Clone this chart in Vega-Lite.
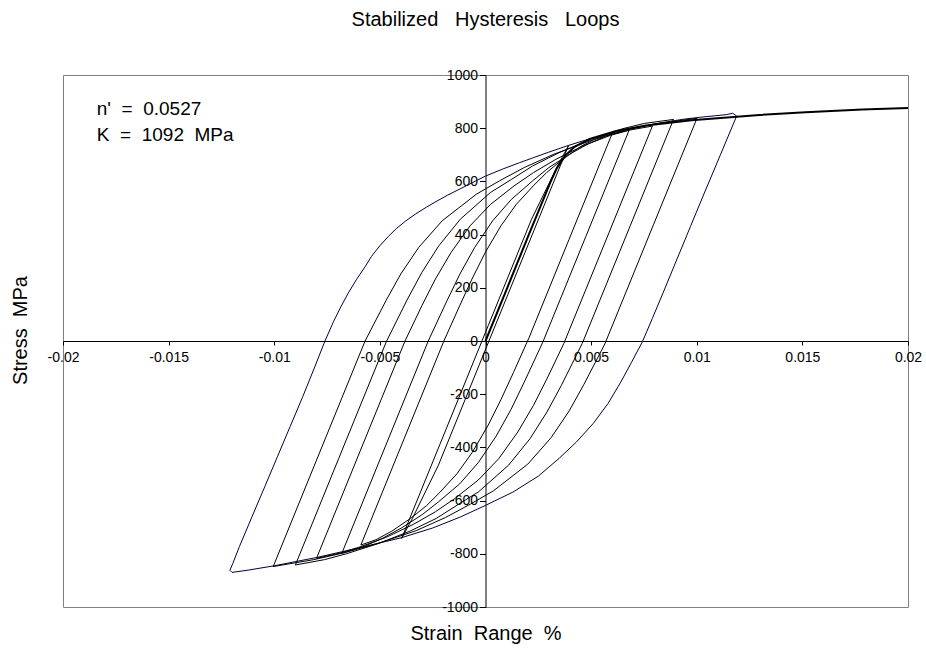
{
"$schema": "https://vega.github.io/schema/vega-lite/v6.json",
"width": 845, "height": 532,
"autosize": {"type": "none"},
"padding": {"left": 63, "top": 75, "right": 18, "bottom": 48},
"background": "white",
"title": {"text": "Stabilized\u00a0\u00a0\u00a0Hysteresis\u00a0\u00a0\u00a0Loops", "frame": "group", "anchor": "middle", "font": "Liberation Sans", "fontSize": 20, "fontWeight": "normal", "color": "#000000", "offset": 38},
"config": {"view": {"stroke": "#808080", "strokeWidth": 1}, "axis": {"grid": false}},
"datasets": {
"loops": [
{"id":"L7","k":1,"e":-0.0121,"s":-862},{"id":"L7","k":2,"e":-0.01196,"s":-836},{"id":"L7","k":3,"e":-0.01165,"s":-773},{"id":"L7","k":4,"e":-0.01105,"s":-660},{"id":"L7","k":5,"e":-0.01045,"s":-548},{"id":"L7","k":6,"e":-0.00985,"s":-435},{"id":"L7","k":7,"e":-0.00925,"s":-322},{"id":"L7","k":8,"e":-0.00865,"s":-209},{"id":"L7","k":9,"e":-0.00808,"s":-97},{"id":"L7","k":10,"e":-0.0076,"s":0},{"id":"L7","k":11,"e":-0.0072,"s":72},{"id":"L7","k":12,"e":-0.00685,"s":128},{"id":"L7","k":13,"e":-0.0065,"s":180},{"id":"L7","k":14,"e":-0.0061,"s":232},{"id":"L7","k":15,"e":-0.0057,"s":279},{"id":"L7","k":16,"e":-0.0054,"s":318},{"id":"L7","k":17,"e":-0.005,"s":358},{"id":"L7","k":18,"e":-0.0046,"s":393},{"id":"L7","k":19,"e":-0.0042,"s":424},{"id":"L7","k":20,"e":-0.0038,"s":450},{"id":"L7","k":21,"e":-0.0033,"s":478},{"id":"L7","k":22,"e":-0.0028,"s":503},{"id":"L7","k":23,"e":-0.0023,"s":526},{"id":"L7","k":24,"e":-0.0018,"s":548},{"id":"L7","k":25,"e":-0.0012,"s":572},{"id":"L7","k":26,"e":-0.0006,"s":596},{"id":"L7","k":27,"e":0,"s":620},{"id":"L7","k":28,"e":0.0008,"s":646},{"id":"L7","k":29,"e":0.0016,"s":670},{"id":"L7","k":30,"e":0.00226,"s":689},{"id":"L7","k":31,"e":0.003,"s":710},{"id":"L7","k":32,"e":0.00384,"s":733},{"id":"L7","k":33,"e":0.0046,"s":752},{"id":"L7","k":34,"e":0.00542,"s":770},{"id":"L7","k":35,"e":0.0062,"s":786},{"id":"L7","k":36,"e":0.007,"s":800},{"id":"L7","k":37,"e":0.0078,"s":813},{"id":"L7","k":38,"e":0.00858,"s":824},{"id":"L7","k":39,"e":0.0094,"s":834},{"id":"L7","k":40,"e":0.01015,"s":841},{"id":"L7","k":41,"e":0.0109,"s":847},{"id":"L7","k":42,"e":0.0114,"s":851},{"id":"L7","k":43,"e":0.0117,"s":856},{"id":"L7","k":44,"e":0.01189,"s":846},{"id":"L7","k":45,"e":0.01112,"s":700},{"id":"L7","k":46,"e":0.0103,"s":545},{"id":"L7","k":47,"e":0.0097,"s":430},{"id":"L7","k":48,"e":0.0084,"s":180},{"id":"L7","k":49,"e":0.0079,"s":85},{"id":"L7","k":50,"e":0.00742,"s":-4},{"id":"L7","k":51,"e":0.0069,"s":-82},{"id":"L7","k":52,"e":0.0064,"s":-155},{"id":"L7","k":53,"e":0.0058,"s":-235},{"id":"L7","k":54,"e":0.0051,"s":-310},{"id":"L7","k":55,"e":0.0043,"s":-380},{"id":"L7","k":56,"e":0.0035,"s":-440},{"id":"L7","k":57,"e":0.0025,"s":-508},{"id":"L7","k":58,"e":0.0013,"s":-568},{"id":"L7","k":59,"e":0,"s":-618},{"id":"L7","k":60,"e":-0.0012,"s":-662},{"id":"L7","k":61,"e":-0.0025,"s":-703},{"id":"L7","k":62,"e":-0.004,"s":-740},{"id":"L7","k":63,"e":-0.006,"s":-778},{"id":"L7","k":64,"e":-0.008,"s":-814},{"id":"L7","k":65,"e":-0.01,"s":-845},{"id":"L7","k":66,"e":-0.0112,"s":-861},{"id":"L7","k":67,"e":-0.012,"s":-870},{"id":"L7","k":68,"e":-0.0121,"s":-862},
{"id":"L6","k":1,"e":-0.01005,"s":-848},{"id":"L6","k":2,"e":-0.008,"s":-448},{"id":"L6","k":3,"e":-0.0057,"s":0},{"id":"L6","k":4,"e":-0.00471,"s":152},{"id":"L6","k":5,"e":-0.00401,"s":252},{"id":"L6","k":6,"e":-0.00316,"s":352},{"id":"L6","k":7,"e":-0.00205,"s":452},{"id":"L6","k":8,"e":-0.00043,"s":552},{"id":"L6","k":9,"e":0.00066,"s":602},{"id":"L6","k":10,"e":0.00183,"s":652},{"id":"L6","k":11,"e":0.00323,"s":702},{"id":"L6","k":12,"e":0.00493,"s":752},{"id":"L6","k":13,"e":0.00658,"s":792},{"id":"L6","k":14,"e":0.00808,"s":817},{"id":"L6","k":15,"e":0.01001,"s":837},{"id":"L6","k":16,"e":0.00795,"s":437},{"id":"L6","k":17,"e":0.00565,"s":-11},{"id":"L6","k":18,"e":0.00466,"s":-163},{"id":"L6","k":19,"e":0.00396,"s":-263},{"id":"L6","k":20,"e":0.00311,"s":-363},{"id":"L6","k":21,"e":0.002,"s":-463},{"id":"L6","k":22,"e":0.00038,"s":-563},{"id":"L6","k":23,"e":-0.00071,"s":-613},{"id":"L6","k":24,"e":-0.00188,"s":-663},{"id":"L6","k":25,"e":-0.00328,"s":-713},{"id":"L6","k":26,"e":-0.00498,"s":-758},{"id":"L6","k":27,"e":-0.00663,"s":-795},{"id":"L6","k":28,"e":-0.00813,"s":-822},{"id":"L6","k":29,"e":-0.01005,"s":-848},
{"id":"L5","k":1,"e":-0.009,"s":-842},{"id":"L5","k":2,"e":-0.00695,"s":-442},{"id":"L5","k":3,"e":-0.00468,"s":0},{"id":"L5","k":4,"e":-0.00369,"s":158},{"id":"L5","k":5,"e":-0.00301,"s":258},{"id":"L5","k":6,"e":-0.00221,"s":358},{"id":"L5","k":7,"e":-0.00119,"s":458},{"id":"L5","k":8,"e":0.00023,"s":558},{"id":"L5","k":9,"e":0.00124,"s":608},{"id":"L5","k":10,"e":0.00223,"s":658},{"id":"L5","k":11,"e":0.00348,"s":708},{"id":"L5","k":12,"e":0.00499,"s":758},{"id":"L5","k":13,"e":0.00649,"s":798},{"id":"L5","k":14,"e":0.00752,"s":818},{"id":"L5","k":15,"e":0.0089,"s":833},{"id":"L5","k":16,"e":0.00685,"s":433},{"id":"L5","k":17,"e":0.00458,"s":-9},{"id":"L5","k":18,"e":0.00359,"s":-167},{"id":"L5","k":19,"e":0.00291,"s":-267},{"id":"L5","k":20,"e":0.00211,"s":-367},{"id":"L5","k":21,"e":0.00109,"s":-467},{"id":"L5","k":22,"e":-0.00033,"s":-567},{"id":"L5","k":23,"e":-0.00134,"s":-617},{"id":"L5","k":24,"e":-0.00233,"s":-667},{"id":"L5","k":25,"e":-0.00358,"s":-715},{"id":"L5","k":26,"e":-0.00509,"s":-762},{"id":"L5","k":27,"e":-0.00659,"s":-800},{"id":"L5","k":28,"e":-0.00762,"s":-822},{"id":"L5","k":29,"e":-0.009,"s":-842},
{"id":"L4","k":1,"e":-0.008,"s":-817},{"id":"L4","k":2,"e":-0.00595,"s":-417},{"id":"L4","k":3,"e":-0.00381,"s":0},{"id":"L4","k":4,"e":-0.00301,"s":133},{"id":"L4","k":5,"e":-0.00237,"s":233},{"id":"L4","k":6,"e":-0.00163,"s":333},{"id":"L4","k":7,"e":-0.00073,"s":433},{"id":"L4","k":8,"e":0.00023,"s":513},{"id":"L4","k":9,"e":0.00135,"s":583},{"id":"L4","k":10,"e":0.00227,"s":633},{"id":"L4","k":11,"e":0.00333,"s":683},{"id":"L4","k":12,"e":0.0046,"s":733},{"id":"L4","k":13,"e":0.00591,"s":773},{"id":"L4","k":14,"e":0.00683,"s":793},{"id":"L4","k":15,"e":0.0079,"s":808},{"id":"L4","k":16,"e":0.00585,"s":408},{"id":"L4","k":17,"e":0.00371,"s":-9},{"id":"L4","k":18,"e":0.00291,"s":-142},{"id":"L4","k":19,"e":0.00227,"s":-242},{"id":"L4","k":20,"e":0.00153,"s":-342},{"id":"L4","k":21,"e":0.00063,"s":-442},{"id":"L4","k":22,"e":-0.00033,"s":-522},{"id":"L4","k":23,"e":-0.00145,"s":-592},{"id":"L4","k":24,"e":-0.00237,"s":-642},{"id":"L4","k":25,"e":-0.00343,"s":-690},{"id":"L4","k":26,"e":-0.0047,"s":-738},{"id":"L4","k":27,"e":-0.00601,"s":-776},{"id":"L4","k":28,"e":-0.00693,"s":-798},{"id":"L4","k":29,"e":-0.008,"s":-817},
{"id":"L3","k":1,"e":-0.0068,"s":-798},{"id":"L3","k":2,"e":-0.00475,"s":-398},{"id":"L3","k":3,"e":-0.00271,"s":0},{"id":"L3","k":4,"e":-0.00182,"s":152},{"id":"L3","k":5,"e":-0.00121,"s":252},{"id":"L3","k":6,"e":-0.00051,"s":352},{"id":"L3","k":7,"e":0.00034,"s":452},{"id":"L3","k":8,"e":0.00122,"s":532},{"id":"L3","k":9,"e":0.00223,"s":602},{"id":"L3","k":10,"e":0.003,"s":652},{"id":"L3","k":11,"e":0.00398,"s":702},{"id":"L3","k":12,"e":0.00488,"s":742},{"id":"L3","k":13,"e":0.00575,"s":772},{"id":"L3","k":14,"e":0.0068,"s":793},{"id":"L3","k":15,"e":0.00475,"s":393},{"id":"L3","k":16,"e":0.00271,"s":-5},{"id":"L3","k":17,"e":0.00182,"s":-157},{"id":"L3","k":18,"e":0.00121,"s":-257},{"id":"L3","k":19,"e":0.00051,"s":-357},{"id":"L3","k":20,"e":-0.00034,"s":-457},{"id":"L3","k":21,"e":-0.00122,"s":-537},{"id":"L3","k":22,"e":-0.00223,"s":-605},{"id":"L3","k":23,"e":-0.003,"s":-653},{"id":"L3","k":24,"e":-0.00398,"s":-703},{"id":"L3","k":25,"e":-0.00488,"s":-742},{"id":"L3","k":26,"e":-0.00575,"s":-772},{"id":"L3","k":27,"e":-0.0068,"s":-798},
{"id":"L2","k":1,"e":-0.0059,"s":-767},{"id":"L2","k":2,"e":-0.00385,"s":-367},{"id":"L2","k":3,"e":-0.00197,"s":0},{"id":"L2","k":4,"e":-0.00122,"s":133},{"id":"L2","k":5,"e":-0.00064,"s":233},{"id":"L2","k":6,"e":-0.00001,"s":333},{"id":"L2","k":7,"e":0.00073,"s":433},{"id":"L2","k":8,"e":0.00145,"s":513},{"id":"L2","k":9,"e":0.00226,"s":583},{"id":"L2","k":10,"e":0.00289,"s":633},{"id":"L2","k":11,"e":0.00365,"s":683},{"id":"L2","k":12,"e":0.00454,"s":733},{"id":"L2","k":13,"e":0.00528,"s":763},{"id":"L2","k":14,"e":0.006,"s":781},{"id":"L2","k":15,"e":0.00395,"s":381},{"id":"L2","k":16,"e":0.00207,"s":14},{"id":"L2","k":17,"e":0.00132,"s":-119},{"id":"L2","k":18,"e":0.00074,"s":-219},{"id":"L2","k":19,"e":0.00011,"s":-319},{"id":"L2","k":20,"e":-0.00063,"s":-419},{"id":"L2","k":21,"e":-0.00135,"s":-499},{"id":"L2","k":22,"e":-0.00216,"s":-569},{"id":"L2","k":23,"e":-0.00279,"s":-619},{"id":"L2","k":24,"e":-0.00355,"s":-667},{"id":"L2","k":25,"e":-0.00444,"s":-715},{"id":"L2","k":26,"e":-0.00518,"s":-747},{"id":"L2","k":27,"e":-0.0059,"s":-767},
{"id":"L1","k":1,"e":-0.00397,"s":-742},{"id":"L1","k":2,"e":-0.00192,"s":-342},{"id":"L1","k":3,"e":0.00013,"s":58},{"id":"L1","k":4,"e":0.00218,"s":458},{"id":"L1","k":5,"e":0.00341,"s":658},{"id":"L1","k":6,"e":0.00392,"s":733},{"id":"L1","k":7,"e":0.00187,"s":333},{"id":"L1","k":8,"e":-0.00018,"s":-67},{"id":"L1","k":9,"e":-0.00223,"s":-467},{"id":"L1","k":10,"e":-0.00346,"s":-667},{"id":"L1","k":11,"e":-0.00397,"s":-742}
],
"cyclic": [
{"id":"C","k":1,"e":0,"s":0},{"id":"C","k":2,"e":0.00103,"s":200},{"id":"C","k":3,"e":0.00205,"s":400},{"id":"C","k":4,"e":0.00309,"s":600},{"id":"C","k":5,"e":0.00338,"s":650},{"id":"C","k":6,"e":0.00381,"s":700},{"id":"C","k":7,"e":0.00422,"s":730},{"id":"C","k":8,"e":0.00493,"s":760},{"id":"C","k":9,"e":0.00619,"s":790},{"id":"C","k":10,"e":0.0076,"s":810},{"id":"C","k":11,"e":0.00975,"s":830},{"id":"C","k":12,"e":0.01297,"s":850},{"id":"C","k":13,"e":0.01515,"s":860},{"id":"C","k":14,"e":0.01784,"s":870},{"id":"C","k":15,"e":0.02,"s":876}
],
"notes": [
{"e":-0.0184,"s":850,"t":"n'\u00a0\u00a0=\u00a0\u00a00.0527"},
{"e":-0.0184,"s":752,"t":"K\u00a0\u00a0=\u00a0\u00a01092\u00a0\u00a0MPa"}
]
},
"encoding": {
"x": {"field": "e", "type": "quantitative", "scale": {"domain": [-0.02, 0.02], "nice": false, "zero": false},
 "axis": {"title": "Strain\u00a0\u00a0Range\u00a0\u00a0%", "orient": "bottom", "offset": -266, "values": [-0.02,-0.015,-0.01,-0.005,0,0.005,0.01,0.015,0.02], "labelExpr": "toString(datum.value)", "tickSize": 4, "labelPadding": 5, "labelFlush": false, "labelOverlap": false, "domainColor": "#000000", "tickColor": "#000000", "labelColor": "#000000", "labelFont": "Liberation Sans", "labelFontSize": 14, "titleFont": "Liberation Sans", "titleFontSize": 20, "titleFontWeight": "normal", "titleColor": "#000000", "titleY": 292, "titleBaseline": "middle", "grid": false}},
"y": {"field": "s", "type": "quantitative", "scale": {"domain": [-1000, 1000], "nice": false, "zero": false},
 "axis": {"title": "Stress\u00a0\u00a0MPa", "orient": "left", "offset": -422.5, "values": [-1000,-800,-600,-400,-200,0,200,400,600,800,1000], "labelExpr": "toString(datum.value)", "tickSize": 6, "labelPadding": 2, "labelFlush": false, "labelOverlap": false, "domainColor": "#000000", "tickColor": "#000000", "labelColor": "#000000", "labelFont": "Liberation Sans", "labelFontSize": 14, "titleFont": "Liberation Sans", "titleFontSize": 20, "titleFontWeight": "normal", "titleColor": "#000000", "titleX": -465.5, "titleY": 255, "titleBaseline": "middle", "grid": false}}
},
"layer": [
{"data": {"name": "loops"}, "mark": {"type": "line", "strokeWidth": 1, "interpolate": "linear"},
 "encoding": {"color": {"field": "id", "type": "nominal", "scale": {"domain": ["L1","L2","L3","L4","L5","L6","L7"], "range": ["#000000","#000000","#000000","#000000","#000000","#000000","#000040"]}, "legend": null}, "order": {"field": "k", "type": "quantitative"}}},
{"data": {"name": "cyclic"}, "mark": {"type": "line", "strokeWidth": 2, "color": "#000000"},
 "encoding": {"order": {"field": "k", "type": "quantitative"}}},
{"data": {"name": "notes"}, "mark": {"type": "text", "align": "left", "baseline": "alphabetic", "font": "Liberation Sans", "fontSize": 19, "color": "#000000"},
 "encoding": {"text": {"field": "t", "type": "nominal"}}}
]
}
